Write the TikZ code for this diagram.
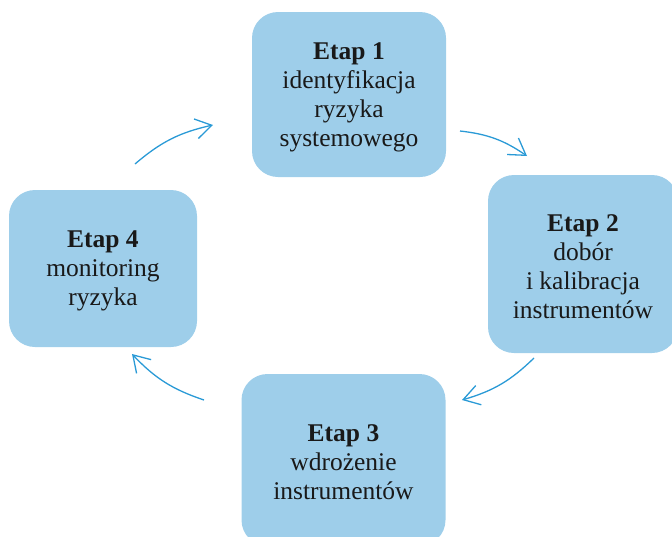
\documentclass[tikz,border=0pt]{standalone}
\usepackage{fontspec}
\setmainfont{Liberation Serif}
\usetikzlibrary{arrows.meta}
\definecolor{boxblue}{RGB}{158,206,234}
\definecolor{arrowblue}{RGB}{42,154,214}
\begin{document}
\begin{tikzpicture}[x=1pt,y=-1pt,
  stage/.style={fill=boxblue, rounded corners=26pt, inner sep=0pt},
  stagetext/.style={align=center, font=\fontsize{25.5}{29}\selectfont,
    text=black!90, inner sep=0pt},
  cyc/.style={draw=arrowblue, line width=1.3pt,
    -{Straight Barb[length=16pt,width=20pt]}}]
\useasboundingbox (0,0) rectangle (672,536);
\clip (0,0) rectangle (672,536);
\node[stage, minimum width=194pt, minimum height=165pt] (s1) at (349,94.5) {};
\node[stage, minimum width=190pt, minimum height=178pt] (s2) at (583,264) {};
\node[stage, minimum width=204pt, minimum height=172pt] (s3) at (343.5,460) {};
\node[stage, minimum width=188pt, minimum height=157pt] (s4) at (103,268.5) {};
\node[stagetext] (t1) at ([yshift=-2.5pt]s1.center)
  {\textbf{Etap 1}\\identyfikacja\\ryzyka\\systemowego};
\node[stagetext] (t2) at ([yshift=-2.5pt]s2.center)
  {\textbf{Etap 2}\\dobór\\i kalibracja\\instrumentów};
\node[stagetext] (t3) at ([yshift=-2.5pt]s3.center)
  {\textbf{Etap 3}\\wdrożenie\\instrumentów};
\node[stagetext] (t4) at ([yshift=-2.5pt]s4.center)
  {\textbf{Etap 4}\\monitoring\\ryzyka};
\coordinate (a1s) at (135,164); \coordinate (a1e) at (213,125);
\coordinate (a2s) at (460,131); \coordinate (a2e) at (527,156);
\coordinate (a3s) at (534,358); \coordinate (a3e) at (462,400);
\coordinate (a4s) at (204,400); \coordinate (a4e) at (132,354);
\draw[cyc] (a1s) to[bend left=14] (a1e);
\draw[cyc] (a2s) to[bend left=14] (a2e);
\draw[cyc] (a3s) to[bend left=14] (a3e);
\draw[cyc] (a4s) to[bend left=14] (a4e);
\end{tikzpicture}
\end{document}
